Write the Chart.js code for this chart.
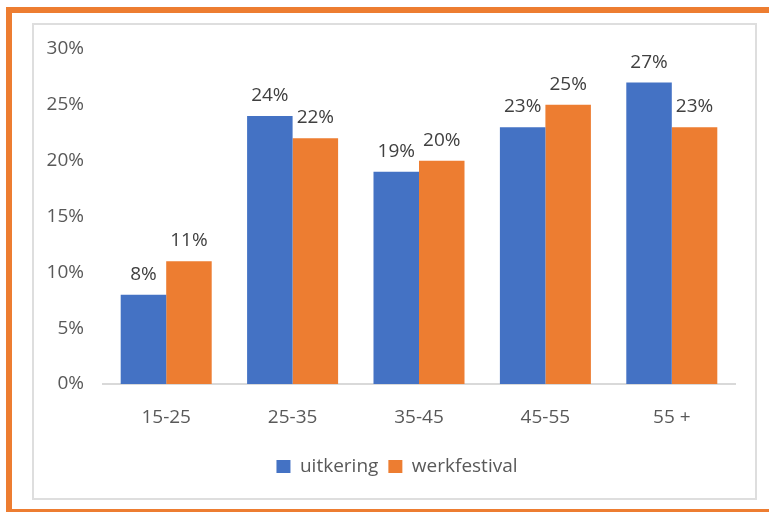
<!DOCTYPE html>
<html>
<head>
<meta charset="utf-8">
<script src="https://cdn.jsdelivr.net/npm/chart.js@4"></script>
<style>
  html, body { margin: 0; padding: 0; background: #fff; }
  #wrap { position: relative; width: 769px; height: 512px; overflow: hidden; }
  .frame { position: absolute; background: #ED7D31; }
  #box { position: absolute; left: 32px; top: 23px; width: 721px; height: 473px; border: 2px solid #dedede; }
  #holder { position: absolute; left: 0; top: 0; width: 769px; height: 512px; }
</style>
</head>
<body>
<div id="wrap">
  <div class="frame" style="left:6px;top:7px;width:763px;height:6px"></div>
  <div class="frame" style="left:6px;top:7px;width:6px;height:505px"></div>
  <div class="frame" style="left:6px;top:509px;width:763px;height:3px"></div>
  <div id="box"></div>
  <div id="holder"><canvas id="chart"></canvas></div>
</div>
<script>
const categories = ["15-25", "25-35", "35-45", "45-55", "55 +"];
const uitkering = [8, 24, 19, 23, 27];
const werkfestival = [11, 22, 20, 25, 23];
const seriesNames = ["uitkering", "werkfestival"];

const FONT = "'Open Sans', 'Noto Sans', sans-serif";

// value labels above each bar
const barLabels = {
  id: "barLabels",
  afterDatasetsDraw(chart) {
    const ctx = chart.ctx;
    ctx.save();
    ctx.font = "19px " + FONT;
    ctx.fillStyle = "#404040";
    ctx.textAlign = "center";
    ctx.textBaseline = "alphabetic";
    chart.data.datasets.forEach((ds, i) => {
      chart.getDatasetMeta(i).data.forEach((bar, j) => {
        ctx.fillText(ds.data[j] + "%", bar.x, bar.y - 15);
      });
    });
    ctx.restore();
  }
};

// nudge the legend a bit to the right, like the original
const legendShift = {
  id: "legendShift",
  afterLayout(chart) {
    if (chart.legend) {
      chart.legend.left += 13;
      chart.legend.right += 13;
    }
  }
};

new Chart(document.getElementById("chart"), {
  type: "bar",
  data: {
    labels: categories,
    datasets: [
      { label: seriesNames[0], data: uitkering, backgroundColor: "#4472C4" },
      { label: seriesNames[1], data: werkfestival, backgroundColor: "#ED7D31" }
    ]
  },
  options: {
    responsive: true,
    maintainAspectRatio: false,
    animation: false,
    categoryPercentage: 0.72,
    barPercentage: 1.0,
    layout: { padding: { left: 33, right: 34, top: 49, bottom: 26 } },
    plugins: {
      tooltip: { enabled: false },
      legend: {
        position: "bottom",
        labels: {
          boxWidth: 14,
          boxHeight: 13,
          padding: 10,
          color: "#595959",
          font: { family: FONT, size: 19 }
        }
      }
    },
    scales: {
      x: {
        grid: { display: false, drawTicks: false },
        border: { display: true, color: "#d9d9d9", width: 2 },
        ticks: { color: "#595959", padding: 22, font: { family: FONT, size: 19 } },
        afterFit(scale) { scale.height = 63; }
      },
      y: {
        min: 0,
        max: 30,
        grid: { display: false, drawTicks: false },
        border: { display: false },
        ticks: {
          stepSize: 5,
          color: "#595959",
          padding: 19,
          font: { family: FONT, size: 19 },
          callback: v => v + "%"
        },
        afterFit(scale) { scale.width = 70; }
      }
    }
  },
  plugins: [barLabels, legendShift]
});
</script>
</body>
</html>
